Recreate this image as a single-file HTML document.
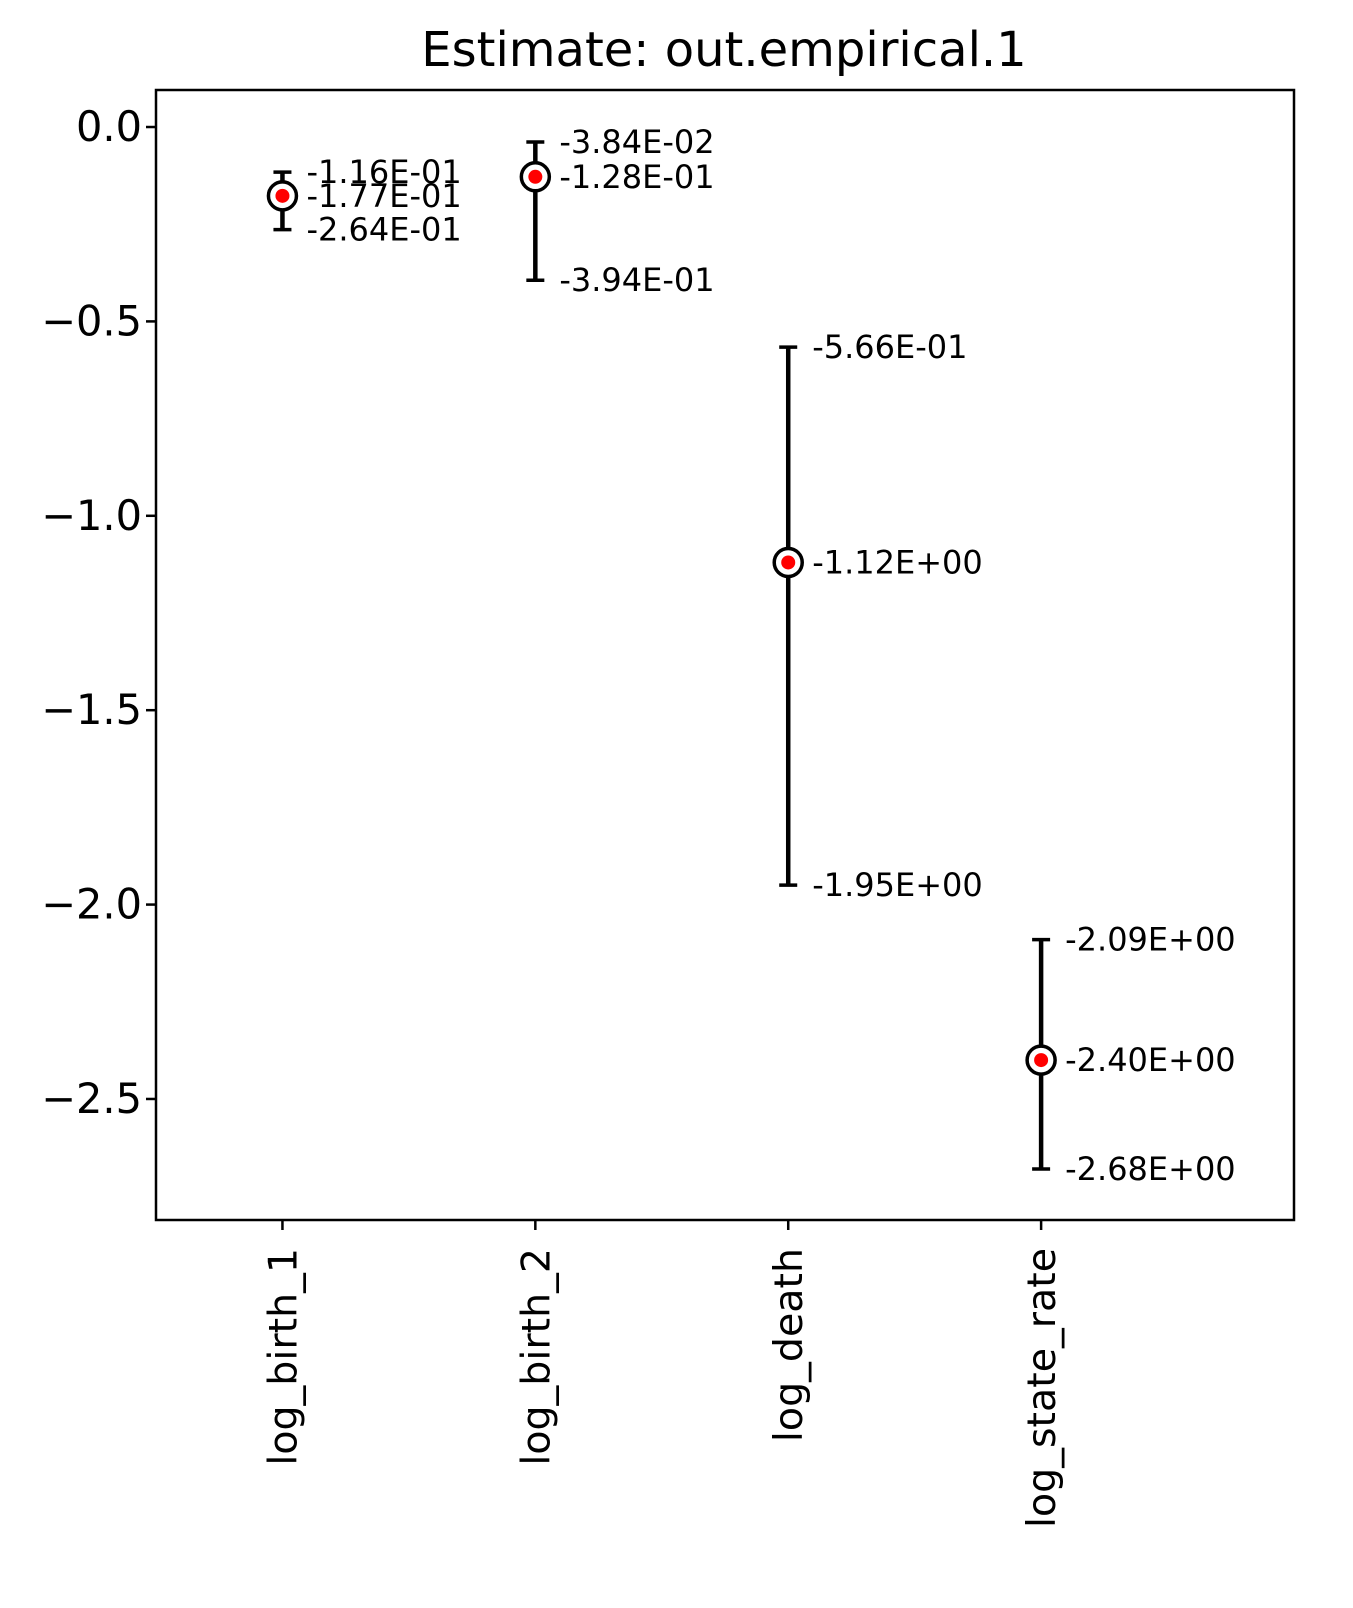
<!DOCTYPE html>
<html><head><meta charset="utf-8"><style>
body{margin:0;background:#fff;}
svg text{font-family:"DejaVu Sans","Liberation Sans",sans-serif;}
</style></head><body>
<svg id="chart" width="1353" height="1603" viewBox="0 0 1353 1603" xmlns="http://www.w3.org/2000/svg">
<rect width="1353" height="1603" fill="#fff"/>
<text x="724" y="66" font-size="48" text-anchor="middle">Estimate: out.empirical.1</text>
<g id="plot"></g>
<rect x="156" y="90" width="1138" height="1130" fill="none" stroke="#000" stroke-width="2.5"/>
</svg>
<script>
const categories = ["log_birth_1","log_birth_2","log_death","log_state_rate"];
const estimates = [-0.177, -0.128, -1.12, -2.40];
const upper = [-0.116, -0.0384, -0.566, -2.09];
const lower = [-0.264, -0.394, -1.95, -2.68];
const upperLabels = ["-1.16E-01","-3.84E-02","-5.66E-01","-2.09E+00"];
const estLabels = ["-1.77E-01","-1.28E-01","-1.12E+00","-2.40E+00"];
const lowerLabels = ["-2.64E-01","-3.94E-01","-1.95E+00","-2.68E+00"];
const yTicks = [0.0,-0.5,-1.0,-1.5,-2.0,-2.5];
const yTickLabels = ["0.0","\u22120.5","\u22121.0","\u22121.5","\u22122.0","\u22122.5"];

const L=156,R=1294,T=90,B=1220;
const yMax=0.0952,yMin=-2.8113;
const xS=i=>L+(i+0.5)/4.5*(R-L);
const yS=v=>T+(yMax-v)/(yMax-yMin)*(B-T);
const NS="http://www.w3.org/2000/svg";
const g=document.getElementById('plot');
function mk(tag,attrs,parent){const e=document.createElementNS(NS,tag);for(const k in attrs)e.setAttribute(k,attrs[k]);(parent||g).appendChild(e);return e;}

yTicks.forEach((v,i)=>{
  const y=yS(v);
  const t=mk('line',{x1:L-10,x2:L,y1:y,y2:y,stroke:'#000','stroke-width':2.5});
  
  
  const lb=mk('text',{x:L-14,y:y+14,'font-size':41.5,'text-anchor':'end'});
  lb.textContent=yTickLabels[i];
  
  
});

categories.forEach((c,i)=>{
  const x=xS(i);
  const t=mk('line',{x1:x,x2:x,y1:B,y2:B+10,stroke:'#000','stroke-width':2.5});
  
  
  const lb=mk('text',{x:0,y:0,'font-size':39.5,'text-anchor':'end',transform:`translate(${x+14},${B+28}) rotate(-90)`});
  lb.textContent=c;
  
  

  const yu=yS(upper[i]),yl=yS(lower[i]),ye=yS(estimates[i]);
  const bar=mk('line',{x1:x,x2:x,y1:yu,y2:yl,stroke:'#000','stroke-width':4.5});
  
  
  [yu,yl].forEach(yy=>{
    const cap=mk('line',{x1:x-9,x2:x+9,y1:yy,y2:yy,stroke:'#000','stroke-width':3.5});
    
    
  });
  const m=mk('circle',{cx:x,cy:ye,r:14,fill:'#fff',stroke:'#000','stroke-width':3.5});
  
  
  const d=mk('circle',{cx:x,cy:ye,r:7,fill:'#ff0000'});
  
  
  [[yu,upperLabels[i],'upper-label'],[ye,estLabels[i],'estimate-label'],[yl,lowerLabels[i],'lower-label']].forEach(([yy,s,n])=>{
    const tx=mk('text',{x:x+24,y:yy+11,'font-size':32});
    tx.textContent=s;
    
    
  });
});
</script>
</body></html>
